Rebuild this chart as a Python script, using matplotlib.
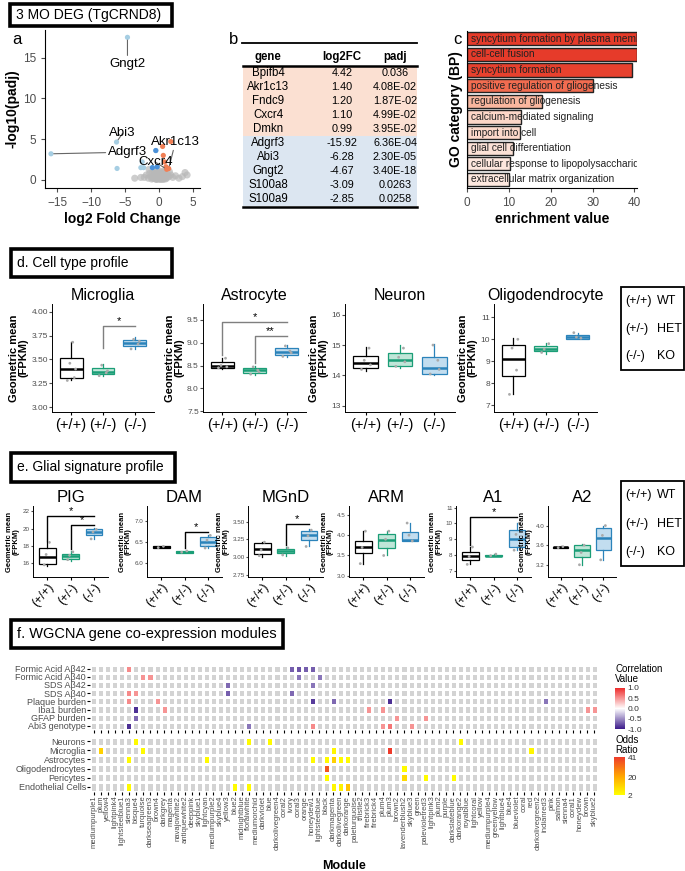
import numpy as np
import matplotlib.pyplot as plt
from matplotlib.colors import LinearSegmentedColormap, ListedColormap, Normalize
from matplotlib.patches import Rectangle
from matplotlib.cm import ScalarMappable

plt.rcParams['font.family'] = ['Liberation Sans', 'DejaVu Sans']

# ---------------- data ----------------
# a. volcano
grey_x = [-2.2, -1.9, -1.6, -1.4, -1.2, -1.0, -0.9, -0.8, -0.7, -0.6, -0.5, -0.4, -0.3, -0.2, -0.1, 0.0, 0.1,
          0.2, 0.3, 0.4, 0.5, 0.6, 0.7, 0.8, 0.9, 1.0, 1.2, 1.4, 1.7, 2.0, 2.4, 2.9, 3.4, 4.1,
          -1.1, -0.8, -0.5, -0.3, 0.0, 0.2, 0.4, 0.6, 0.9, 1.1, -0.6, -0.2, 0.3, 0.7, -0.4, 0.1, 0.5,
          -3.6, -2.7, 3.8, 1.5, -1.5]
grey_y = [0.3, 0.6, 0.2, 0.8, 0.4, 0.9, 0.2, 0.6, 1.0, 0.3, 0.7, 1.2, 0.5, 0.9, 0.2, 1.1, 0.4,
          0.8, 0.3, 1.0, 0.6, 0.2, 0.9, 0.5, 1.2, 0.3, 0.7, 0.4, 0.6, 0.3, 0.5, 0.2, 0.4, 0.6,
          0.1, 0.2, 0.1, 0.1, 0.3, 0.1, 0.2, 0.1, 0.1, 0.2, 0.4, 0.3, 0.5, 0.3, 0.05, 0.05, 0.05,
          0.2, 0.3, 0.9, 1.0, 1.3]
down_x = [-15.92, -6.28, -4.67, -6.2, -2.5, -2.7, -2.3, -1.0, -0.5, -0.3]
down_y = [3.2, 4.64, 17.5, 1.4, 2.2, 1.5, 1.5, 1.5, 3.6, 1.6]
up_x = [0.5, 1.7, 0.6, 0.8, 1.0, 1.2, 1.4, 1.1]
up_y = [4.1, 4.7, 3.0, 2.2, 1.6, 1.4, 1.39, 1.3]

# b. table
tab_gene = ['Bpifb4', 'Akr1c13', 'Fndc9', 'Cxcr4', 'Dmkn', 'Adgrf3', 'Abi3', 'Gngt2', 'S100a8', 'S100a9']
tab_fc = ['4.42', '1.40', '1.20', '1.10', '0.99', '-15.92', '-6.28', '-4.67', '-3.09', '-2.85']
tab_padj = ['0.036', '4.08E-02', '1.87E-02', '4.99E-02', '3.95E-02', '6.36E-04', '2.30E-05', '3.40E-18',
            '0.0263', '0.0258']

# c. GO enrichment
go_terms = ['syncytium formation by plasma membrane fusion', 'cell-cell fusion', 'syncytium formation',
            'positive regulation of gliogenesis', 'regulation of gliogenesis', 'calcium-mediated signaling',
            'import into cell', 'glial cell differentiation', 'cellular response to lipopolysaccharide',
            'extracellular matrix organization']
go_values = [40.6, 40.6, 39.3, 30.2, 17.9, 12.9, 12.6, 11.1, 10.3, 10.0]

# d / e box plots: (whislo, q1, med, q3, whishi)
groups = ['(+/+)', '(+/-)', '(-/-)']
microglia_box = [[3.28, 3.31, 3.40, 3.52, 3.68], [3.33, 3.35, 3.37, 3.41, 3.45], [3.61, 3.64, 3.67, 3.70, 3.73]]
microglia_pts = [[3.28, 3.31, 3.46, 3.40, 3.68], [3.33, 3.36, 3.44, 3.38], [3.61, 3.66, 3.71, 3.69]]
astro_box = [[8.42, 8.45, 8.50, 8.58, 8.66], [8.30, 8.33, 8.40, 8.45, 8.48], [8.68, 8.73, 8.80, 8.88, 8.95]]
astro_pts = [[8.45, 8.66, 8.50, 8.47], [8.31, 8.40, 8.47, 8.36], [8.70, 8.82, 8.93, 8.78]]
neuron_box = [[14.15, 14.25, 14.42, 14.65, 14.95], [14.25, 14.30, 14.50, 14.75, 15.00],
              [14.00, 14.05, 14.25, 14.60, 15.05]]
neuron_pts = [[14.2, 14.9, 14.5, 14.35], [14.3, 14.9, 14.6, 14.45], [14.05, 14.5, 15.0, 14.2]]
oligo_box = [[7.50, 8.35, 9.10, 9.75, 10.05], [9.35, 9.45, 9.58, 9.70, 9.85], [10.00, 10.00, 10.10, 10.20, 10.30]]
oligo_pts = [[7.5, 8.6, 9.6, 10.0], [9.4, 9.8, 9.55], [10.3, 10.05, 10.1]]

pig_box = [[15.7, 15.9, 16.7, 17.8, 18.5], [16.3, 16.5, 16.8, 17.1, 17.4], [18.8, 19.2, 19.6, 19.9, 20.1]]
pig_pts = [[15.8, 18.4, 17.0], [16.4, 17.3, 16.9], [18.8, 19.9, 19.6]]
dam_box = [[6.35, 6.36, 6.38, 6.40, 6.41], [6.25, 6.25, 6.27, 6.29, 6.30], [6.35, 6.40, 6.50, 6.62, 6.68]]
dam_pts = [[6.37, 6.40], [6.26, 6.29], [6.36, 6.66, 6.55]]
mgnd_box = [[3.00, 3.05, 3.12, 3.20, 3.22], [3.02, 3.06, 3.09, 3.12, 3.14], [3.15, 3.24, 3.31, 3.37, 3.40]]
mgnd_pts = [[3.02, 3.21, 3.10], [3.03, 3.13], [3.15, 3.38, 3.30]]
arm_box = [[3.30, 3.55, 3.70, 3.85, 4.10], [3.50, 3.68, 3.87, 4.02, 4.10], [3.85, 3.85, 3.87, 4.08, 4.30]]
arm_pts = [[3.3, 4.1, 3.7], [3.5, 4.1, 3.9], [4.3, 3.86, 4.0]]
a1_box = [[7.40, 7.70, 7.95, 8.20, 8.50], [7.90, 7.90, 7.95, 8.00, 8.05], [8.30, 8.50, 9.00, 9.60, 10.00]]
a1_pts = [[7.4, 8.5, 7.9], [7.95, 8.05], [8.3, 10.0, 9.3]]
a2_box = [[3.55, 3.55, 3.56, 3.57, 3.58], [3.20, 3.35, 3.50, 3.60, 3.62], [3.30, 3.50, 3.75, 3.95, 4.00]]
a2_pts = [[3.55, 3.57], [3.2, 3.6, 3.45], [3.3, 4.0, 3.8]]

# f. WGCNA
modules = ['mediumpurple1', 'plum', 'yellow4', 'lightpink4', 'lightsteelblue1', 'sienna3', 'bisque4',
           'turquoise', 'darkseagreen3', 'brown4', 'darkgrey', 'magenta', 'navajowhite2', 'antiquewhite2',
           'deeppink', 'skyblue1', 'lightcyan', 'mediumpurple2', 'skyblue4', 'yellow3', 'blue2',
           'midnightblue', 'floralwhite', 'mediumorchid', 'darkviolet', 'blue', 'darkolivegreen4', 'coral2',
           'ivory', 'coral3', 'orange', 'honeydew1', 'lightsteelblue', 'black', 'darkmagenta',
           'darkolivegreen', 'darkorange', 'paleturquoise', 'thistle2', 'firebrick3', 'firebrick4', 'plum4',
           'plum3', 'brown2', 'lavenderblush2', 'skyblue3', 'green', 'palevioletred3', 'lightpink3', 'plum2',
           'purple', 'darkslateblue', 'darkorange2', 'royalblue', 'lightcoral', 'yellow', 'mediumpurple4',
           'greenyellow', 'lightblue4', 'blue4', 'blueviolet', 'coral', 'red', 'darkolivegreen2',
           'indianred3', 'pink', 'salmon', 'sienna4', 'coral1', 'honeydew', 'brown', 'skyblue2']
traits = ['Formic Acid A\u03b242', 'Formic Acid A\u03b240', 'SDS A\u03b242', 'SDS A\u03b240', 'Plaque burden',
          'Iba1 burden', 'GFAP burden', 'Abi3 genotype']
cell_rows = ['Neurons', 'Microglia', 'Astrocytes', 'Oligodendrocytes', 'Pericytes', 'Endothelial Cells']
# (row, module index, correlation)
corr_cells = [(0, 5, 0.55), (0, 28, -0.7), (0, 29, -0.75), (0, 30, -0.7), (0, 31, -0.7),
              (1, 7, 0.5), (1, 8, 0.5), (1, 29, -0.6), (1, 32, -0.6),
              (2, 19, -0.65), (2, 31, -0.6),
              (3, 5, 0.55), (3, 6, 0.5), (3, 19, -0.7), (3, 28, -0.65),
              (4, 5, 0.55), (4, 9, 0.5), (4, 31, -0.85), (4, 34, -0.65), (4, 42, -0.9), (4, 64, -0.6),
              (5, 6, -0.9), (5, 10, 0.5), (5, 39, 0.5), (5, 41, 0.5), (5, 70, 0.5), (5, 71, 0.5),
              (6, 6, -0.65), (6, 43, 0.5), (6, 47, 0.5),
              (7, 5, -0.9), (7, 22, -0.6), (7, 31, 0.55), (7, 41, 0.5), (7, 42, 0.65), (7, 45, 0.5)]
# (row, module index, odds ratio)
odds_cells = [(0, 6, 3), (0, 22, 3), (0, 25, 3), (0, 52, 3),
              (1, 1, 12), (1, 7, 3), (1, 34, 4), (1, 42, 41), (1, 62, 4),
              (2, 5, 3), (2, 16, 3), (2, 31, 3), (2, 33, 3), (2, 34, 12), (2, 35, 3), (2, 36, 3),
              (3, 33, 36), (3, 44, 3),
              (4, 33, 3), (4, 44, 10), (4, 47, 3), (4, 51, 3),
              (5, 5, 3), (5, 20, 3), (5, 22, 3), (5, 34, 4), (5, 35, 5), (5, 36, 15)]

# ---------------- layout helpers ----------------
W, H = 685, 871
fig = plt.figure(figsize=(W / 100, H / 100), dpi=100)


def px(x0, y0, x1, y1):
    return [x0 / W, 1 - y1 / H, (x1 - x0) / W, (y1 - y0) / H]


def title_box(x0, y0, x1, y1, text, fs=10):
    fig.add_artist(Rectangle((x0 / W, 1 - y1 / H), (x1 - x0) / W, (y1 - y0) / H,
                             transform=fig.transFigure, fill=False, lw=2.6, ec='black'))
    fig.text((x0 + 6) / W, 1 - (y0 + y1) / 2 / H, text, fontsize=fs, va='center', ha='left')


def legend_box(x0, y0, x1, y1):
    fig.add_artist(Rectangle((x0 / W, 1 - y1 / H), (x1 - x0) / W, (y1 - y0) / H,
                             transform=fig.transFigure, fill=False, lw=1.3, ec='black'))
    labs = ['WT', 'HET', 'KO']
    step = (y1 - y0) / 3
    for i in range(3):
        yy = 1 - (y0 + step * (i + 0.5)) / H
        fig.text((x0 + 4) / W, yy, groups[i], fontsize=9, va='center')
        fig.text((x0 + 36) / W, yy, labs[i], fontsize=9, va='center')


grp_colors = ['black', '#1b9e77', '#2b83ba']
grp_fills = ['white', '#bfe6d8', '#c2ddef']
jit = [-0.12, 0.1, -0.04, 0.14, 0.05]


def box_panel(rect, box, pts, title, ylim, yticks, fmt, sig, small=False):
    ax = fig.add_axes(rect)
    stats = [dict(whislo=b[0], q1=b[1], med=b[2], q3=b[3], whishi=b[4], fliers=[]) for b in box]
    art = ax.bxp(stats, positions=[1, 2, 3], widths=0.72, patch_artist=True,
                 showfliers=False, showcaps=False)
    for i, c in enumerate(grp_colors):
        art['boxes'][i].set(facecolor=grp_fills[i], edgecolor=c, linewidth=0.9)
        art['medians'][i].set(color=c, linewidth=1.8)
        for w in art['whiskers'][2 * i:2 * i + 2]:
            w.set(color=c, linewidth=0.9)
        ax.scatter([i + 1 + jit[k] for k in range(len(pts[i]))], pts[i], s=4, color='#aaaaaa', zorder=3,
                   edgecolors='none')
    sig_col = 'black' if small else '#7f7f7f'
    for g1, g2, y, y0, lab in sig:
        ax.plot([g1, g1, g2], [y0, y, y], color=sig_col, lw=1.0)
        ax.text((g1 + g2) / 2, y, lab, ha='center', va='bottom', fontsize=8)
    ax.set_xlim(0.4, 3.6)
    ax.set_ylim(*ylim)
    ax.set_yticks(yticks)
    ax.set_yticklabels([fmt.format(t) for t in yticks])
    ax.set_xticks([1, 2, 3])
    for s in ['top', 'right']:
        ax.spines[s].set_visible(False)
    for s in ['left', 'bottom']:
        ax.spines[s].set_linewidth(0.7)
    if small:
        ax.set_xticklabels(groups, rotation=50, fontsize=9, ha='right', rotation_mode='anchor')
        ax.tick_params(axis='y', labelsize=4.5, colors='#4d4d4d', length=1.5, pad=1)
        ax.tick_params(axis='x', length=2, pad=1)
        ax.set_title(title, fontsize=12, pad=3)
        ax.set_ylabel('Geometric mean\n(FPKM)', fontsize=5.5, fontweight='bold', labelpad=2, linespacing=0.9)
    else:
        ax.set_xticklabels(groups, fontsize=10.5)
        ax.tick_params(axis='y', labelsize=6, colors='#4d4d4d', length=2, pad=1)
        ax.tick_params(axis='x', length=2.5, pad=2)
        ax.set_title(title, fontsize=11.5, pad=3)
        ax.set_ylabel('Geometric mean\n(FPKM)', fontsize=8, fontweight='bold', labelpad=2, linespacing=0.9)
    for lbl in ax.get_yticklabels():
        lbl.set_color('#4d4d4d')
    return ax


# ---------------- a. volcano ----------------
title_box(10, 4, 172, 26, '3 MO DEG (TgCRND8)', 10)
fig.text(12 / W, 1 - 40 / H, 'a', fontsize=12, va='center')
ax = fig.add_axes(px(45, 30, 200, 188))
ax.scatter(grey_x, grey_y, s=26, color='#b8b8b8', alpha=0.7, edgecolors='none')
ax.scatter(down_x, down_y, s=14, color='#a6cee3', edgecolors='none', zorder=3)
ax.scatter(down_x[-3:], down_y[-3:], s=14, color='#4a90d9', edgecolors='none', zorder=3)
ax.scatter(up_x, up_y, s=14, color='#f07f55', edgecolors='none', zorder=3)
ann = dict(arrowstyle='-', color='#666666', lw=0.8, shrinkA=0, shrinkB=2)
ax.annotate('Gngt2', (-4.67, 17.5), (-4.67, 14.2), ha='center', va='center', fontsize=9.5, arrowprops=ann)
ax.annotate('Abi3', (-6.28, 4.64), (-5.4, 5.7), ha='center', va='center', fontsize=9.5, arrowprops=ann)
ax.annotate('Adgrf3', (-15.92, 3.2), (-4.6, 3.4), ha='center', va='center', fontsize=9.5, arrowprops=ann)
ax.annotate('Akr1c13', (1.4, 1.39), (2.4, 4.7), ha='center', va='center', fontsize=9.5, arrowprops=ann)
ax.annotate('Cxcr4', (1.1, 1.3), (-0.6, 2.2), ha='center', va='center', fontsize=9.5, arrowprops=ann)
ax.set_xlim(-16.8, 6)
ax.set_ylim(-1, 18.4)
ax.set_xticks([-15, -10, -5, 0, 5])
ax.set_yticks([0, 5, 10, 15])
ax.tick_params(labelsize=8.5, colors='#4d4d4d', length=3)
for s in ['top', 'right']:
    ax.spines[s].set_visible(False)
ax.set_xlabel('log2 Fold Change', fontsize=10, fontweight='bold', labelpad=2)
ax.set_ylabel('-log10(padj)', fontsize=10, fontweight='bold', labelpad=2)

# ---------------- b. table ----------------
fig.text(229 / W, 1 - 40 / H, 'b', fontsize=12, va='center')
axb = fig.add_axes(px(225, 30, 440, 212))
axb.set_xlim(225, 440)
axb.set_ylim(212, 30)
axb.axis('off')
row_h = 14
for i in range(len(tab_gene)):
    y_top = 66 + i * row_h
    axb.add_patch(Rectangle((243, y_top), 174, row_h, color='#fbe0d2' if i < 5 else '#dce6f1', lw=0))
    axb.text(268, y_top + row_h / 2, tab_gene[i], ha='center', va='center', fontsize=8.3)
    axb.text(342, y_top + row_h / 2, tab_fc[i], ha='center', va='center', fontsize=7.8)
    axb.text(395, y_top + row_h / 2, tab_padj[i], ha='center', va='center', fontsize=7.8)
for t, xx in zip(['gene', 'log2FC', 'padj'], [268, 342, 395]):
    axb.text(xx, 57, t, ha='center', va='center', fontsize=8.3, fontweight='bold')
axb.plot([242, 417], [43, 43], color='black', lw=1.3)
axb.plot([243, 417], [66, 66], color='black', lw=1.8)
axb.plot([243, 417], [66 + 10 * row_h + 1, 66 + 10 * row_h + 1], color='black', lw=1.8)

# ---------------- c. GO bars ----------------
fig.text(453 / W, 1 - 40 / H, 'c', fontsize=12, va='center')
axc = fig.add_axes(px(467, 31, 637, 188))
cmap_go = LinearSegmentedColormap.from_list(
    'go', [(0, '#fde8df'), (0.27, '#f9b49b'), (0.67, '#f26a4e'), (1, '#e63b2a')])
go_norm = Normalize(10, 40.6)
ypos = np.arange(len(go_terms))
axc.barh(ypos, go_values, height=0.85, color=cmap_go(go_norm(go_values)), edgecolor='#222222', linewidth=1.0)
for i, t in enumerate(go_terms):
    axc.text(1.0, i, t, va='center', ha='left', fontsize=7.3, color='#222222', clip_on=True)
axc.set_xlim(0, 40.6)
axc.set_ylim(len(go_terms) - 0.45, -0.5)
axc.set_yticks([])
axc.set_xticks([0, 10, 20, 30, 40])
axc.tick_params(labelsize=8.5, colors='#4d4d4d', length=3)
for s in ['top', 'right']:
    axc.spines[s].set_visible(False)
axc.set_xlabel('enrichment value', fontsize=10, fontweight='bold', labelpad=2)
axc.set_ylabel('GO category (BP)', fontsize=10, fontweight='bold', labelpad=3)

# ---------------- d. cell type profile ----------------
title_box(11, 249, 172, 277, 'd. Cell type profile', 10)
legend_box(621, 287, 684, 370)
d_top, d_bot = 304, 412
box_panel(px(52, d_top, 154, d_bot), microglia_box, microglia_pts, 'Microglia', (2.95, 4.08),
          [3.0, 3.25, 3.5, 3.75, 4.0], '{:.2f}', [(2, 3, 3.85, 3.62, '*')])
box_panel(px(203, d_top, 306, d_bot), astro_box, astro_pts, 'Astrocyte', (7.48, 9.85),
          [7.5, 8.0, 8.5, 9.0, 9.5], '{:.1f}', [(1, 3, 9.45, 8.72, '*'), (2, 3, 9.15, 8.55, '**')])
box_panel(px(345, d_top, 455, d_bot), neuron_box, neuron_pts, 'Neuron', (12.8, 16.35),
          [13, 14, 15, 16], '{:.0f}', [])
box_panel(px(494, d_top, 597, d_bot), oligo_box, oligo_pts, 'Oligodendrocyte', (6.7, 11.6),
          [7, 8, 9, 10, 11], '{:.0f}', [])

# ---------------- e. glial signature profile ----------------
title_box(11, 453, 175, 482, 'e. Glial signature profile', 10)
legend_box(621, 481, 684, 566)
e_top, e_bot = 506, 577
box_panel(px(33, e_top, 108, e_bot), pig_box, pig_pts, 'PIG', (14.4, 22.6), [16, 18, 20, 22], '{:.0f}',
          [(1, 3, 21.4, 18.6, '*'), (2, 3, 20.4, 17.6, '*')], small=True)
box_panel(px(147, e_top, 222, e_bot), dam_box, dam_pts, 'DAM', (5.67, 7.36), [6.0, 6.5, 7.0], '{:.1f}',
          [(2, 3, 6.75, 6.35, '*')], small=True)
box_panel(px(248, e_top, 323, e_bot), mgnd_box, mgnd_pts, 'MGnD', (2.72, 3.72), [2.75, 3.0, 3.25, 3.5],
          '{:.2f}', [(2, 3, 3.47, 3.17, '*')], small=True)
box_panel(px(349, e_top, 424, e_bot), arm_box, arm_pts, 'ARM', (2.97, 4.72), [3.0, 3.5, 4.0, 4.5], '{:.1f}',
          [], small=True)
box_panel(px(456, e_top, 531, e_bot), a1_box, a1_pts, 'A1', (6.6, 11.1), [7, 8, 9, 10, 11], '{:.0f}',
          [(1, 3, 10.4, 8.6, '*')], small=True)
box_panel(px(548, e_top, 616, e_bot), a2_box, a2_pts, 'A2', (2.95, 4.4), [3.2, 3.6, 4.0], '{:.1f}',
          [], small=True)

# ---------------- f. WGCNA heatmaps ----------------
title_box(11, 620, 283, 648, 'f. WGCNA gene co-expression modules', 10.5)
n_mod = len(modules)
corr_mat = np.full((len(traits), n_mod), np.nan)
for r, c, v in corr_cells:
    corr_mat[r, c] = v
odds_mat = np.full((len(cell_rows), n_mod), np.nan)
for r, c, v in odds_cells:
    odds_mat[r, c] = v

corr_cmap = LinearSegmentedColormap.from_list('corr', ['#3b1a8a', '#ffffff', '#ee2c2c'])
odds_cmap = LinearSegmentedColormap.from_list('odds', ['#ffff00', '#ffa500', '#ee3b2b'])
corr_norm = Normalize(-1, 1)
odds_norm = Normalize(2, 41)
grey_cmap = ListedColormap(['#d3d3d3'])


def heat(rect, mat, cmap, norm, rows, show_x):
    axh = fig.add_axes(rect)
    xs = np.arange(mat.shape[1] + 1)
    ys = np.arange(mat.shape[0] + 1)
    axh.pcolormesh(xs, ys, np.zeros(mat.shape), cmap=grey_cmap, edgecolors='white', linewidth=0.9)
    axh.pcolormesh(xs, ys, np.ma.masked_invalid(mat), cmap=cmap, norm=norm, edgecolors='white',
                   linewidth=0.9)
    axh.set_xlim(0, mat.shape[1])
    axh.set_ylim(mat.shape[0], 0)
    axh.set_yticks(np.arange(mat.shape[0]) + 0.5)
    axh.set_yticklabels(rows, fontsize=6.5, color='#4d4d4d')
    axh.set_xticks(np.arange(mat.shape[1]) + 0.5)
    if show_x:
        axh.set_xticklabels(modules, rotation=90, fontsize=5.5, color='#4d4d4d')
    else:
        axh.set_xticklabels([])
    axh.tick_params(length=2, width=0.8, pad=1)
    for s in axh.spines.values():
        s.set_visible(False)
    return axh


heat(px(90, 664.5, 598, 730), corr_mat, corr_cmap, corr_norm, traits, False)
heat(px(90, 736.5, 598, 791.5), odds_mat, odds_cmap, odds_norm, cell_rows, True)
fig.text(344 / W, 1 - 866 / H, 'Module', fontsize=9, fontweight='bold', ha='center', va='center')

fig.text(615 / W, 1 - 674 / H, 'Correlation\nValue', fontsize=7, va='center', linespacing=1.1)
cax1 = fig.add_axes(px(615, 688, 625, 729))
cb1 = fig.colorbar(ScalarMappable(corr_norm, corr_cmap), cax=cax1, ticks=[-1, -0.5, 0, 0.5, 1])
cb1.ax.set_yticklabels(['-1.0', '-0.5', '0.0', '0.5', '1.0'])
cb1.outline.set_visible(False)
cb1.ax.tick_params(labelsize=6, length=0, pad=2, colors='#333333')

fig.text(615 / W, 1 - 745 / H, 'Odds\nRatio', fontsize=7, va='center', linespacing=1.1)
cax2 = fig.add_axes(px(614, 757, 625, 795))
cb2 = fig.colorbar(ScalarMappable(odds_norm, odds_cmap), cax=cax2, ticks=[2, 20, 41])
cb2.outline.set_visible(False)
cb2.ax.tick_params(labelsize=6, length=0, pad=2, colors='#333333')

fig.savefig('out.png', dpi=100)
